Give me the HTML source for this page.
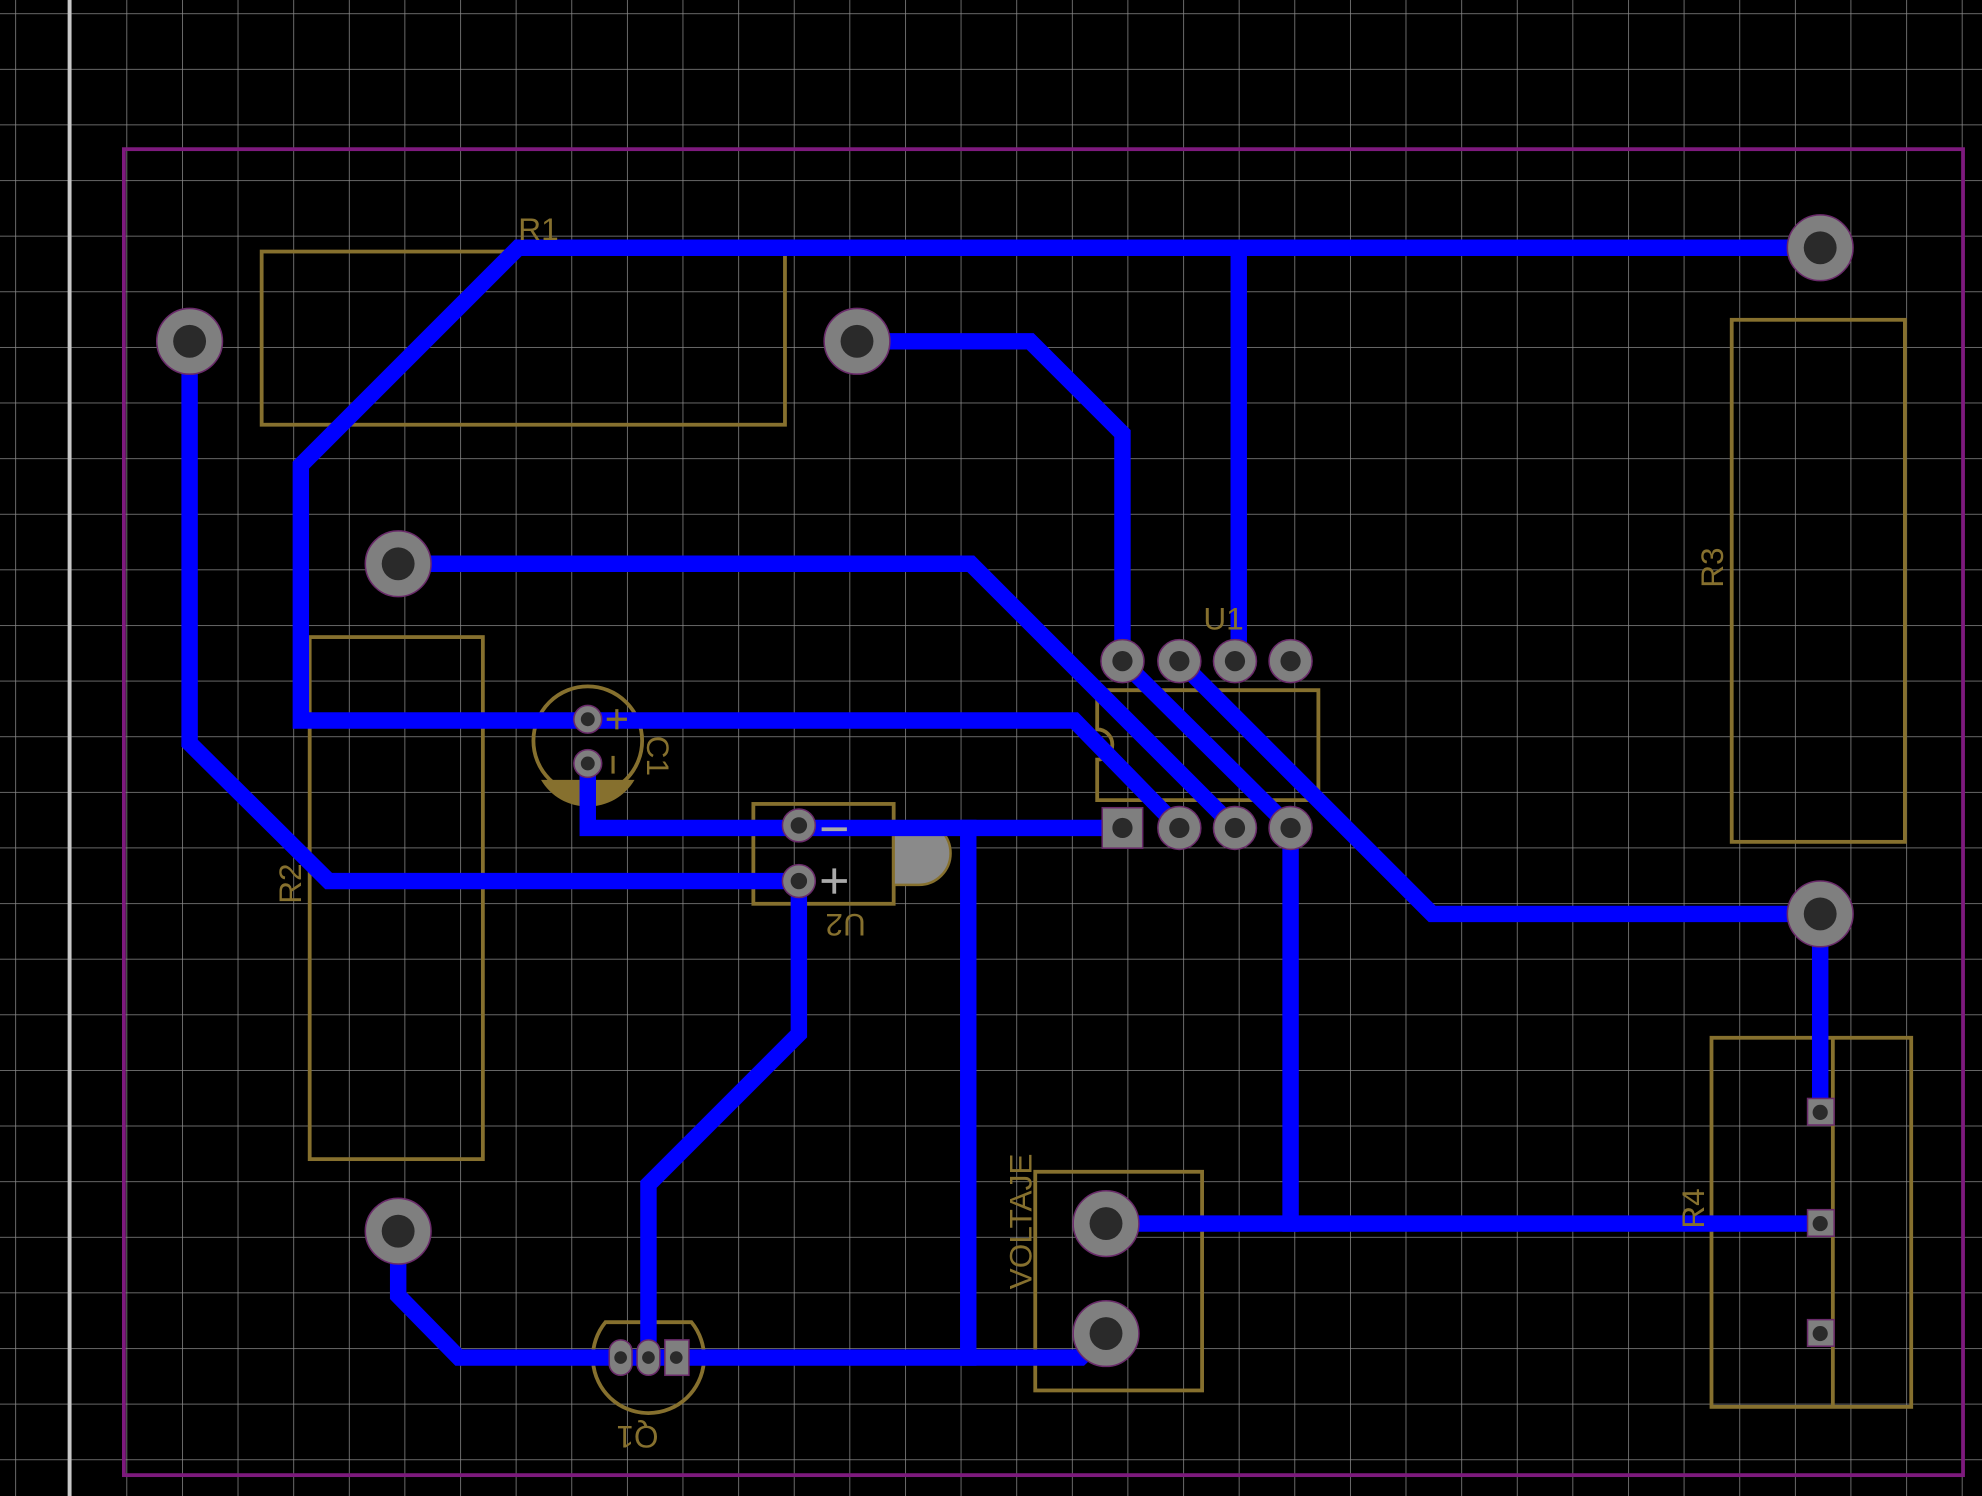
<!DOCTYPE html>
<html><head><style>html,body{margin:0;padding:0;background:#000;}svg{display:block;}</style></head>
<body>
<svg width="1982" height="1496" viewBox="0 0 1568 1183.5" xmlns="http://www.w3.org/2000/svg" font-family="Liberation Sans, sans-serif">
<defs>
<pattern id="g" x="12" y="10.5" width="44" height="44" patternUnits="userSpaceOnUse">
<path d="M0 0V44M0 0H44" stroke="#8a8a8a" stroke-width="1.2" fill="none"/>
</pattern>
</defs>
<rect width="1568" height="1184" fill="#000"/>
<rect width="1568" height="1184" fill="url(#g)"/>
<line x1="55" y1="0" x2="55" y2="1184" stroke="#c8c8c8" stroke-width="3"/>
<rect x="98" y="118" width="1455" height="1049" fill="none" stroke="#7d1a7d" stroke-width="3"/>

<!-- silkscreen -->
<g stroke="#86702e" stroke-width="3" fill="none">
<rect x="207" y="199" width="414" height="137"/>
<rect x="245" y="504" width="137" height="413"/>
<rect x="1370" y="253" width="137" height="413"/>
<rect x="1354" y="821" width="158" height="292"/>
<line x1="1450" y1="821" x2="1450" y2="1113"/>
<path d="M868 546H1043V633H868V601A12 12 0 0 0 868 577Z"/>
<circle cx="465" cy="586" r="43"/>
<rect x="596" y="636" width="111" height="79"/>
<path d="M479 1046H547A44 44 0 1 1 479 1046Z"/>
<rect x="819" y="927" width="132" height="173"/>
</g>
<path d="M428 617H502A43 43 0 0 1 428 617Z" fill="#86702e"/>
<path d="M707 650H727A25 25 0 0 1 727 700H707Z" fill="#8a8a8a" stroke="#86702e" stroke-width="2"/>

<!-- traces -->
<g stroke="#0000ff" stroke-width="13" fill="none" stroke-linejoin="miter" stroke-linecap="square">
<path d="M1440 196H410L238 368V570H850L933 655"/>
<path d="M980 196V523"/>
<path d="M678 270H815L888 343V523"/>
<path d="M315 446H768L977 655"/>
<path d="M888 523L1021 655"/>
<path d="M933 523L1133 723H1440V880"/>
<path d="M150 270V588L260 697H632"/>
<path d="M465 604V655H888"/>
<path d="M766 655V1074"/>
<path d="M632 697V818L513 937V1074"/>
<path d="M315 974V1025L363 1074H855L875 1055"/>
<path d="M875 968H1440"/>
<path d="M1021 655V968"/>
</g>

<!-- pads -->
<g fill="#7f7f7f" stroke="#6a2a6a" stroke-width="1.2">
<circle cx="150" cy="270" r="26"/><circle cx="678" cy="270" r="26"/><circle cx="1440" cy="196" r="26"/>
<circle cx="315" cy="446" r="26"/><circle cx="1440" cy="723" r="26"/><circle cx="315" cy="974" r="26"/>
<circle cx="875" cy="968" r="26"/><circle cx="875" cy="1055" r="26"/>
<circle cx="888" cy="523" r="17"/><circle cx="933" cy="523" r="17"/><circle cx="977" cy="523" r="17"/><circle cx="1021" cy="523" r="17"/>
<rect x="872" y="639" width="32" height="32"/><circle cx="933" cy="655" r="17"/><circle cx="977" cy="655" r="17"/><circle cx="1021" cy="655" r="17"/>
<circle cx="465" cy="569" r="11"/><circle cx="465" cy="604" r="11"/>
<circle cx="632" cy="653" r="13"/><circle cx="632" cy="697" r="13"/>
<rect x="482" y="1060" width="18" height="28" rx="9"/><rect x="504" y="1060" width="18" height="28" rx="9"/><rect x="526" y="1060" width="19" height="28"/>
<rect x="1430" y="869" width="21" height="21"/><rect x="1430" y="957" width="21" height="21"/><rect x="1430" y="1044" width="21" height="21"/>
</g>
<g fill="#2a2a2a">
<circle cx="150" cy="270" r="13"/><circle cx="678" cy="270" r="13"/><circle cx="1440" cy="196" r="13"/>
<circle cx="315" cy="446" r="13"/><circle cx="1440" cy="723" r="13"/><circle cx="315" cy="974" r="13"/>
<circle cx="875" cy="968" r="13"/><circle cx="875" cy="1055" r="13"/>
<circle cx="888" cy="523" r="8"/><circle cx="933" cy="523" r="8"/><circle cx="977" cy="523" r="8"/><circle cx="1021" cy="523" r="8"/>
<circle cx="888" cy="655" r="8"/><circle cx="933" cy="655" r="8"/><circle cx="977" cy="655" r="8"/><circle cx="1021" cy="655" r="8"/>
<circle cx="465" cy="569" r="5.5"/><circle cx="465" cy="604" r="5.5"/>
<circle cx="632" cy="653" r="6.5"/><circle cx="632" cy="697" r="6.5"/>
<circle cx="491" cy="1074" r="5"/><circle cx="513" cy="1074" r="5"/><circle cx="535" cy="1074" r="5"/>
<circle cx="1440" cy="880" r="6"/><circle cx="1440" cy="968" r="6"/><circle cx="1440" cy="1055" r="6"/>
</g>

<!-- marks -->
<g stroke="#aaaaaa" stroke-width="3">
<line x1="650" y1="656" x2="670" y2="656"/>
<line x1="650" y1="697" x2="670" y2="697"/><line x1="660" y1="687" x2="660" y2="707"/>
</g>
<g stroke="#86702e" stroke-width="2.5">
<line x1="480" y1="569" x2="496" y2="569"/><line x1="488" y1="561" x2="488" y2="577"/>
<line x1="485" y1="598" x2="485" y2="612"/>
</g>

<!-- labels -->
<g fill="#86702e" font-size="25">
<text x="410" y="190">R1</text>
<text x="952" y="498">U1</text>
<text transform="translate(238 715) rotate(-90)">R2</text>
<text transform="translate(1363 465) rotate(-90)">R3</text>
<text transform="translate(1348 972) rotate(-90)">R4</text>
<text transform="translate(816 1020) rotate(-90)">VOLTAJE</text>
<text transform="translate(512 582) rotate(90)">C1</text>
<text transform="translate(685 723) rotate(180)">U2</text>
<text transform="translate(521 1128) rotate(180)">Q1</text>
</g>
</svg>
</body></html>
